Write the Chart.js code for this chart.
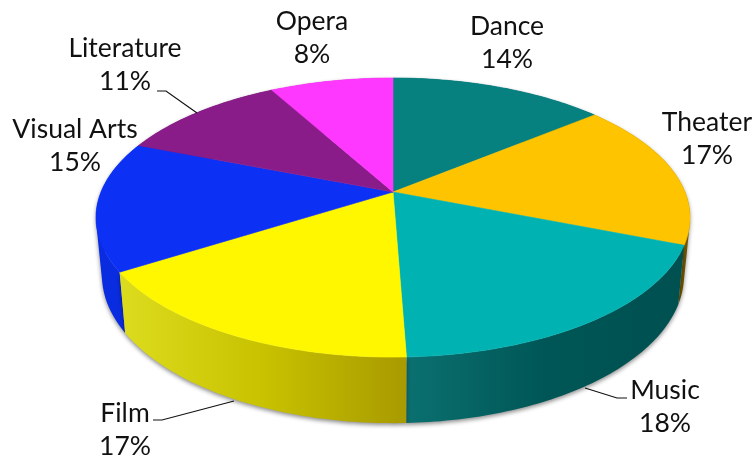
<!DOCTYPE html>
<html>
<head>
<meta charset="utf-8">
<style>
  html, body { margin: 0; padding: 0; background: #ffffff; }
  canvas { display: block; }
</style>
<script src="https://cdn.jsdelivr.net/npm/chart.js@4"></script>
</head>
<body>
<canvas id="chart" width="756" height="458"></canvas>
<script>
const categories = ["Dance", "Theater", "Music", "Film", "Visual Arts", "Literature", "Opera"];
const shares = [14, 17, 18.4, 16.6, 15, 11, 8];

const topColors = ["#078080", "#ffc400", "#00b2b2", "#fff700", "#0d30f5", "#8a1c8a", "#ff38ff"];
// side wall colours, left to right across the visible part of each slice
const wallColors = [
  ["#065a5a", "#065a5a"],
  ["#8a6a00", "#6e5400"],
  ["#0b7070", "#005656", "#005050"],
  ["#dcdc1e", "#c8c200", "#a89a00"],
  ["#0a2ce0", "#0a2ce0"],
  ["#5c105c", "#5c105c"],
  ["#a820a8", "#a820a8"],
];

// [centre x, first baseline] of each label, in chart order
const labelSpots = [[507, 35], [707, 131], [665, 399], [125, 422], [75, 138], [125, 57], [312, 30]];
const leaderLines = [
  [[157, 91], [166, 91], [197, 113]],
  [[153, 420], [162, 420], [234, 401]],
  [[627, 398], [617, 398], [585, 388]],
];

// camera tilt: the far edge of the disc is squeezed, the near edge stretched
const depth = 0.183;
const topRing = { shrink: 1, squash: 0.462, drop: 0 };
const wallRing = { shrink: 0.98, squash: 0.49, drop: 56 };

function project(arc, angle, ring) {
  const theta = angle + Math.PI / 2;
  const w = 1 + depth * Math.cos(theta);
  return {
    x: arc.x + (ring.shrink * arc.outerRadius * Math.sin(theta)) / w,
    y: arc.y + ring.drop - (ring.squash * arc.outerRadius * Math.cos(theta)) / w,
  };
}

function ringPoints(arc, ring) {
  const steps = Math.ceil((arc.endAngle - arc.startAngle) * 60);
  const points = [];
  for (let i = 0; i <= steps; i++) {
    const angle = arc.startAngle + ((arc.endAngle - arc.startAngle) * i) / steps;
    points.push(project(arc, angle, ring));
  }
  return points;
}

function signedArea(quad) {
  let sum = 0;
  quad.forEach((p, i) => {
    const q = quad[(i + 1) % quad.length];
    sum += p.x * q.y - q.x * p.y;
  });
  return sum;
}

function drawWall(ctx, arc, stops) {
  const top = ringPoints(arc, topRing);
  const bottom = ringPoints(arc, wallRing);
  const xs = top.map((p) => p.x);
  const gradient = ctx.createLinearGradient(Math.min(...xs), 0, Math.max(...xs), 0);
  stops.forEach((color, i) => gradient.addColorStop(i / (stops.length - 1), color));

  // sweep small quads so the tangent sides of the drum fill in
  ctx.beginPath();
  for (let i = 0; i < top.length - 1; i++) {
    const quad = [top[i], top[i + 1], bottom[i + 1], bottom[i]];
    if (signedArea(quad) < 0) quad.reverse();
    quad.forEach((p, j) => (j ? ctx.lineTo(p.x, p.y) : ctx.moveTo(p.x, p.y)));
    ctx.closePath();
  }
  ctx.fillStyle = gradient;
  ctx.fill();
}

function drawTop(ctx, arc, color) {
  ctx.beginPath();
  ctx.moveTo(arc.x, arc.y);
  ringPoints(arc, topRing).forEach((p) => ctx.lineTo(p.x, p.y));
  ctx.closePath();
  ctx.fillStyle = color;
  ctx.strokeStyle = color;
  ctx.lineWidth = 0.6;
  ctx.fill();
  ctx.stroke();
}

const tiltedPie = {
  id: "tiltedPie",
  beforeDatasetsDraw(chart) {
    const ctx = chart.ctx;
    const arcs = chart.getDatasetMeta(0).data;

    // walls go back to front so the film wall covers the end of the blue one
    ctx.save();
    ctx.shadowColor = "rgba(0, 0, 0, 0.45)";
    ctx.shadowBlur = 4;
    ctx.shadowOffsetY = 2;
    [5, 6, 0, 1, 4, 2, 3].forEach((i) => drawWall(ctx, arcs[i], wallColors[i]));
    ctx.restore();

    arcs.forEach((arc) => drawTop(ctx, arc, arc.options.backgroundColor));
    return false;
  },
  afterDraw(chart) {
    const ctx = chart.ctx;
    ctx.save();
    ctx.strokeStyle = "#111111";
    ctx.lineWidth = 1.2;
    leaderLines.forEach((line) => {
      ctx.beginPath();
      line.forEach(([x, y], i) => (i ? ctx.lineTo(x, y) : ctx.moveTo(x, y)));
      ctx.stroke();
    });

    ctx.fillStyle = "#111111";
    ctx.font = '26.5px Lato, "Open Sans", sans-serif';
    ctx.textAlign = "center";
    categories.forEach((name, i) => {
      const [x, y] = labelSpots[i];
      ctx.fillText(name, x, y);
      ctx.fillText(`${Math.round(shares[i])}%`, x, y + 33);
    });
    ctx.restore();
  },
};

new Chart(document.getElementById("chart").getContext("2d"), {
  type: "pie",
  data: {
    labels: categories,
    datasets: [
      {
        data: shares,
        backgroundColor: topColors,
        borderWidth: 0,
      },
    ],
  },
  options: {
    animation: false,
    responsive: false,
    radius: 292,
    layout: { padding: { left: 30, right: 0, top: 0, bottom: 74 } },
    plugins: {
      legend: { display: false },
      tooltip: { enabled: false },
    },
  },
  plugins: [tiltedPie],
});
</script>
</body>
</html>
